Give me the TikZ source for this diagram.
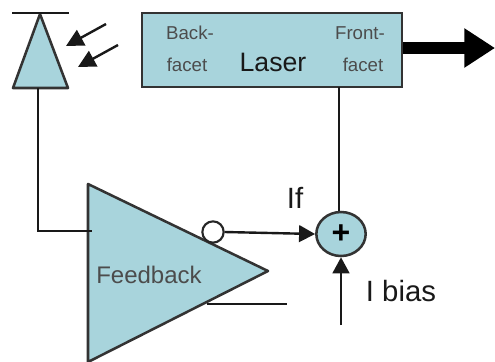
\documentclass[tikz,border=0pt]{standalone}
\usepackage{fontspec}
\setmainfont{Liberation Sans}
\usetikzlibrary{arrows.meta,shapes.geometric}
\definecolor{bodyblue}{HTML}{A8D4DC}
\tikzset{
    wire/.style={line width=1.8pt,black!90},
    block/.style={draw=black!80,line width=1.9pt,fill=bodyblue},
    smalltext/.style={text=black!70,font=\fontsize{14}{14}\selectfont,inner sep=0pt},
    bigtext/.style={text=black!90,font=\fontsize{22}{22}\selectfont,inner sep=0pt},
    headarrow/.style={-{Triangle[length=12pt,width=12.5pt]},wire},
    lightarrow/.style={-{Triangle[length=13pt,width=13pt]},wire},
}
\begin{document}
\begin{tikzpicture}[x=0.75pt,y=-0.75pt]
        \useasboundingbox (0,0) rectangle (495,361);
        %laser
        \node (laser) at (272,50)[block,minimum width=195pt,minimum height=55.5pt,inner sep=0pt]{};
        \node (laserlabel) at (273,62)[bigtext,font=\fontsize{20}{20}\selectfont]{Laser};
        \node (backA) at (190,33)[smalltext]{Back-};
        \node (backB) at (187,65)[smalltext]{facet};
        \node (frontA) at (360,33)[smalltext]{Front-};
        \node (frontB) at (363,65)[smalltext]{facet};
        %output beam
        \coordinate (beamend) at (495,48);
        \draw[-{Triangle[length=23pt,width=28pt]},line width=9pt] (laser.east |- beamend)--(beamend);
        %photodiode
        \coordinate (pdtop) at (40,14);
        \coordinate (pdleft) at (13,88);
        \coordinate (pdright) at (68,88);
        \coordinate (pdbarA) at (12,13);
        \coordinate (pdbarB) at (69,13);
        \draw[block,line join=round](pdtop)--(pdright)--(pdleft)--cycle;
        \draw[wire](pdbarA)--(pdbarB);
        %light
        \coordinate (lightAa) at (106,24);
        \coordinate (lightAb) at (66,46);
        \coordinate (lightBa) at (118,45);
        \coordinate (lightBb) at (78,67);
        \draw[lightarrow](lightAa)--(lightAb);
        \draw[lightarrow](lightBa)--(lightBb);
        %feedback amp
        \coordinate (ampA) at (88,184);
        \coordinate (ampB) at (268,271);
        \coordinate (ampC) at (88,362);
        \draw[block,line join=round](ampA)--(ampB)--(ampC)--cycle;
        \node (feedback) at (149,275)[smalltext,font=\fontsize{18}{18}\selectfont]{Feedback};
        \node (inv) at (213,232)[circle,draw=black!85,line width=1.6pt,fill=white,minimum size=16pt,inner sep=0pt]{};
        %sum
        \node (sum) at (341,234)[ellipse,block,minimum width=37pt,minimum height=33pt,inner sep=0pt]{\fontsize{24}{24}\selectfont\bfseries +};
        %wires
        \coordinate (pdfoot) at (38,88);
        \coordinate (ampin) at (92,231);
        \coordinate (lasertap) at (339,87);
        \coordinate (refend) at (287,304);
        \coordinate (refstart) at (207,304);
        \coordinate (biasstart) at (341,325);
        \draw[wire](pdfoot)--(pdfoot |- ampin)--(ampin);
        \draw[wire](lasertap)--(lasertap |- sum.north);
        \draw[wire](refstart)--(refend);
        \draw[headarrow](inv.east)--(sum.west);
        \draw[headarrow](biasstart)--(sum.south);
        %label
        \node (iflabel) at (295,198)[bigtext]{If};
        \node (biaslabel) at (401,291)[bigtext]{I bias};
\end{tikzpicture}
\end{document}
